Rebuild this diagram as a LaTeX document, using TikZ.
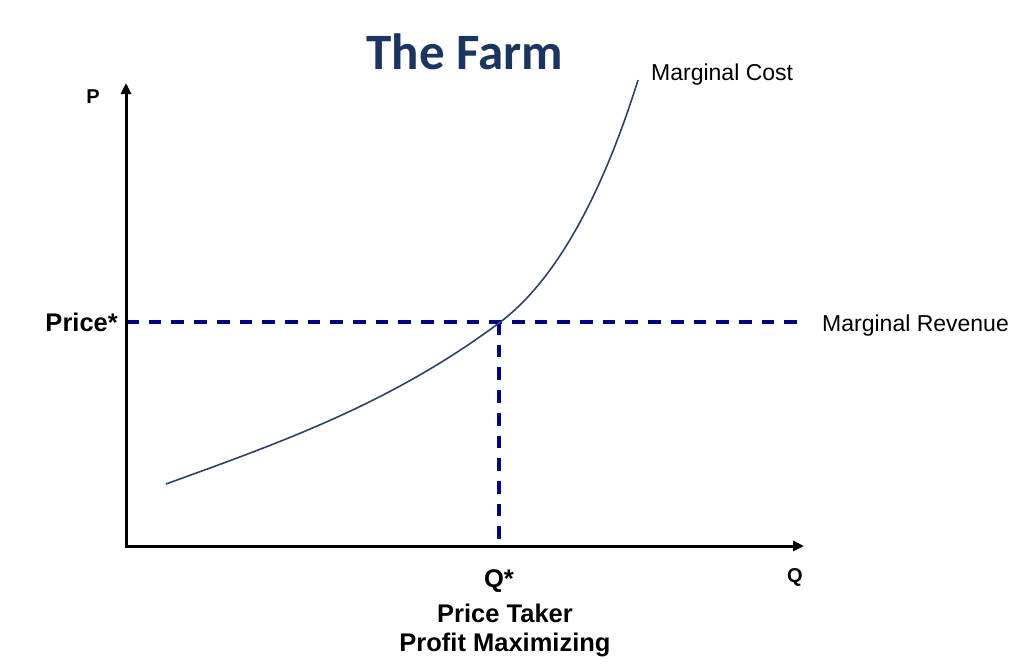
\documentclass[tikz,border=0pt]{standalone}
\usepackage{fontspec}
\setmainfont{Liberation Sans}
\newfontfamily\titlefont{Carlito}
\usetikzlibrary{arrows.meta}
\definecolor{titleblue}{RGB}{28,52,96}
\definecolor{dashnavy}{RGB}{0,0,128}
\definecolor{curveblue}{RGB}{44,66,104}
\tikzset{
  axis/.style={line width=3pt, -{Triangle[length=11pt,width=10pt]}},
  guide/.style={dashnavy, line width=3.3pt, dash pattern=on 12.7pt off 10pt},
  curve/.style={curveblue, line width=1.6pt},
  plainlbl/.style={inner sep=0pt, font=\fontsize{23}{27}\selectfont},
  boldlbl/.style={inner sep=0pt, font=\fontsize{25.5}{30}\selectfont\bfseries},
  axislbl/.style={inner sep=0pt, font=\fontsize{20}{23}\selectfont\bfseries},
}
\begin{document}
\begin{tikzpicture}[x=1pt,y=-1pt]
\useasboundingbox (0,0) rectangle (1024,665);
% coordinates
\coordinate (O) at (126,546);
\coordinate (Ytip) at (126,83);
\coordinate (Xtip) at (804,546);
\coordinate (PS) at (126,322);
\coordinate (X) at (499,322);
\coordinate (MRend) at (802,322);
\coordinate (QS) at (499,546);
\coordinate (MCstart) at (166,484);
\coordinate (MCmid) at (499,323);
\coordinate (MCend) at (638,80);
% dashed guides
\draw[guide] (PS) -- (MRend);
\draw[guide] (X) -- (QS);
% curve
\draw[curve] (MCstart) .. controls (276,444) and (389,405) .. (MCmid)
  .. controls (569,271) and (613,160) .. (MCend);
% axes
\draw[axis] (126,547.5) -- (Ytip);
\draw[axis] (124.5,546) -- (Xtip);
% labels
\node[font=\titlefont\fontsize{51}{60}\selectfont\bfseries, text=titleblue, inner sep=0pt] (title) at (465,52) {The Farm};
\node[axislbl] (plbl) at (93,97) {P};
\node[axislbl] (qlbl) at (795,577) {Q};
\node[boldlbl, anchor=east] (price) at (118,322) {Price*};
\node[boldlbl] (qstar) at (499,581) {Q*};
\node[boldlbl] (taker) at (505,613) {Price Taker};
\node[boldlbl] (maxim) at (505,645) {Profit Maximizing};
\node[plainlbl, anchor=west] (mc) at (651,75) {Marginal Cost};
\node[plainlbl, anchor=west] (mr) at (822,326) {Marginal Revenue};
\end{tikzpicture}
\end{document}
